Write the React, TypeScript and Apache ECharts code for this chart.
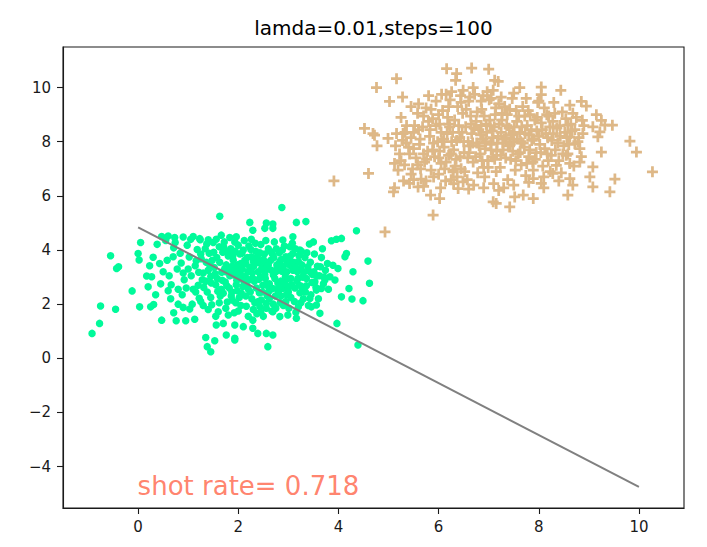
import React, { useEffect, useRef } from "react";
import * as echarts from "echarts";

const title = "lamda=0.01,steps=100";
const annotationText = "shot rate= 0.718";
const annotationAt: [number, number] = [0, -5];

const xTicks = [0, 2, 4, 6, 8, 10];
const yTicks = [-4, -2, 0, 2, 4, 6, 8, 10];

// decision boundary line
const boundary: [number, number][] = [[0, 4.84], [10, -4.75]];

// class 0 (green dots): scattered edge points
const greenEdge: [number, number][] = [
  [1.63,5.25],[0.05,4.28],[0.0,3.87],[0.02,3.63],[-0.55,3.79],[-0.43,3.32],[-0.39,3.38],[-0.12,2.49],
  [-0.75,1.93],[-0.45,1.81],[-0.77,1.29],[-0.92,0.92],[0.03,1.9],[0.25,1.9],[0.31,1.99],[0.2,2.64],
  [0.17,3.04],[0.27,3.01],[0.23,3.42],[0.3,3.73],[0.43,3.5],[0.38,4.21],[0.47,1.41],[0.76,1.39],
  [0.95,1.39],[1.13,1.44],[0.71,1.68],[0.9,1.88],[1.03,1.82],[1.35,0.77],[1.53,0.65],[1.38,0.43],
  [1.45,0.24],[1.56,1.23],[1.7,1.29],[1.76,0.86],[1.93,0.74],
  [0.47,4.5],[0.6,4.52],[0.73,4.46],[0.9,4.48],[1.1,4.5],[1.23,4.42],[1.4,4.38],[1.56,4.4],[1.66,4.55],[1.83,4.46],
  [2.87,5.57],[2.23,5.02],[2.56,5.0],[2.69,4.96],[3.16,5.02],[3.35,5.05],[4.36,4.71],[3.86,4.34],
  [3.96,4.4],[4.06,4.43],[4.16,3.87],[4.13,3.75],[4.59,3.59],[3.89,3.44],[3.99,3.32],[4.29,3.2],
  [3.83,3.01],[3.93,2.89],[4.62,2.77],[4.21,2.58],[4.06,2.27],[4.27,2.19],[4.49,2.13],[3.97,1.29],
  [4.39,0.49],[3.56,1.97],[3.63,1.66],[3.46,1.9],[3.16,1.48],[2.99,1.6],[2.83,1.54],[2.69,1.72],
  [2.56,1.85],[2.43,1.9],[2.29,1.41],[2.29,1.11],[2.39,0.92],[2.56,0.92],[2.69,0.86],[2.59,0.43],
  [1.93,0.68],[2.1,1.17],[1.93,1.23],[3.29,2.52],[3.43,2.21],[3.56,2.52],[3.66,2.58],[3.73,2.89],
  [3.53,2.83],[3.43,3.2],[3.26,3.26],[3.36,2.95],[3.03,3.44],[3.09,3.87],[3.23,4.0],[3.09,4.49],
  [2.89,4.37],[3.03,4.12],[2.29,4.73],[2.53,4.8],[2.69,4.8],[1.96,4.49],
];

// class 0 (green dots): dense core
const greenCore: [number, number][] = [
  [0.55,4.35],[0.62,3.05],[0.58,3.62],[0.71,4.08],[0.66,2.72],[0.78,3.3],[0.84,3.88],[0.88,2.35],[0.74,4.28],[0.86,3.52],[0.92,2.9],[0.5,3.2],
  [0.98,4.18],[1.02,3.74],[1.06,3.05],[1.1,2.55],[1.14,3.42],[1.18,4.02],[1.22,2.22],[1.25,3.85],[1.28,2.9],[1.0,3.3],[1.08,2.0],[1.16,3.6],[1.24,4.38],[1.3,3.15],[0.96,2.6],[1.2,2.7],
  [1.34,4.05],[1.36,3.55],[1.38,2.45],[1.42,3.88],[1.45,3.02],[1.47,1.98],[1.5,4.28],[1.52,3.35],[1.55,2.72],[1.57,3.72],[1.6,1.72],[1.62,4.12],[1.64,2.3],[1.67,3.18],[1.69,3.92],[1.4,3.25],[1.58,2.95],[1.66,2.55],[1.35,2.85],[1.48,3.62],
  [1.72,4.3],[1.74,2.82],[1.76,3.45],[1.78,2.08],[1.8,3.78],[1.83,3.05],[1.85,4.05],[1.87,2.45],[1.9,3.62],[1.92,1.68],[1.95,3.28],[1.97,2.88],[2.0,4.18],[2.02,2.25],[2.05,3.5],[2.07,3.88],[2.09,2.65],[1.82,2.6],[1.94,3.95],[2.04,3.12],[1.88,3.4],[1.98,2.5],[1.75,3.2],
  [2.12,4.35],[2.14,3.02],[2.16,1.92],[2.18,3.72],[2.2,2.55],[2.23,3.35],[2.25,4.02],[2.27,2.2],[2.3,3.58],[2.32,2.85],[2.35,3.95],[2.37,1.65],[2.4,3.2],[2.42,2.42],[2.45,4.2],[2.47,3.45],[2.49,2.7],[2.15,3.5],[2.22,2.9],[2.28,3.15],[2.33,2.05],[2.38,3.75],[2.44,3.0],[2.26,4.4],[2.46,2.15],
  [2.52,3.85],[2.54,2.95],[2.56,2.02],[2.58,3.3],[2.6,4.05],[2.63,2.52],[2.65,3.62],[2.67,1.75],[2.7,3.08],[2.72,4.3],[2.74,2.3],[2.77,3.45],[2.79,2.78],[2.82,3.9],[2.84,2.05],[2.87,3.22],[2.89,2.58],[2.55,3.55],[2.62,2.75],[2.68,3.85],[2.75,3.2],[2.8,2.45],[2.86,3.65],[2.58,2.3],
  [2.92,4.15],[2.94,3.02],[2.96,2.35],[2.98,3.55],[3.01,1.85],[3.04,3.78],[3.06,2.72],[3.09,3.25],[3.12,2.1],[3.14,4.05],[3.17,2.85],[3.2,3.58],[3.23,2.42],[3.26,3.95],[3.28,3.0],[3.3,2.2],[2.95,2.9],[3.07,3.45],[3.18,3.2],[3.0,2.6],
  [3.33,3.72],[3.36,2.68],[3.39,3.38],[3.42,4.22],[3.45,2.35],[3.48,3.1],[3.52,3.85],[3.55,2.62],[3.58,3.4],[3.62,3.05],[3.66,3.72],[3.7,2.75],[3.74,3.25],[3.78,3.5],[3.4,1.95],[3.5,4.3],[3.6,2.2],[3.68,4.05],[3.8,2.55],
  [1.21,3.18],[1.26,3.68],[1.31,2.62],[1.37,4.22],[1.43,3.45],[1.46,2.78],[1.51,3.92],[1.54,3.12],[1.59,2.48],[1.63,3.55],[1.68,2.88],[1.71,4.1],[1.73,3.32],[1.77,2.68],[1.81,3.95],[1.84,3.25],[1.86,2.3],[1.89,3.78],[1.91,3.08],[1.93,4.3],
  [1.96,2.72],[1.99,3.45],[2.01,2.95],[2.03,3.85],[2.06,2.4],[2.08,3.3],[2.1,4.0],[2.11,2.85],[2.13,3.62],[2.17,2.68],[2.19,3.2],[2.21,4.15],[2.24,2.45],[2.26,3.75],[2.29,2.95],[2.31,3.4],[2.34,4.25],[2.36,2.6],[2.39,3.55],[2.41,2.92],
  [2.43,3.9],[2.46,3.28],[2.48,2.45],[2.5,3.65],[2.53,3.1],[2.55,4.35],[2.57,2.7],[2.6,3.45],[2.62,2.2],[2.64,3.95],[2.66,3.25],[2.69,2.58],[2.71,3.72],[2.73,2.95],[2.76,4.05],[2.78,3.35],[2.81,2.62],[2.83,3.58],[2.85,2.85],[2.88,4.0],
  [2.9,3.4],[2.93,2.75],[2.95,3.75],[2.97,3.2],[3.0,2.45],[3.02,3.65],[3.05,2.95],[3.08,4.25],[3.1,3.55],[3.13,2.6],[3.15,3.35],[3.19,2.95],[3.21,3.8],[3.24,2.68],[3.27,3.45],[3.31,3.18],[3.34,2.45],[3.37,3.9],[3.44,3.55],[3.47,2.8],
  [3.51,3.2],[3.57,3.05],[3.64,3.38],[3.71,3.0],
  [1.3,1.95],[1.55,1.55],[1.75,1.85],[2.0,1.75],[2.2,1.55],[2.45,1.7],[2.7,2.0],[2.95,2.1],[3.2,1.9],[1.15,2.45],[0.8,2.55],[0.7,3.75],[0.9,3.15],[1.05,4.4],[0.6,2.5],
  [1.25,2.1],[1.4,1.8],[1.62,2.05],[1.8,1.6],[1.88,2.15],[2.05,1.95],[2.15,2.3],[2.3,1.8],[2.4,2.1],[2.5,1.55],[2.6,2.45],[2.75,1.85],[2.85,2.3],[2.9,1.95],[3.05,2.25],[3.15,1.7],[3.25,2.05],[1.45,2.25],[1.7,2.4],[1.95,2.05],
  [0.65,2.2],[0.8,2.0],[0.45,2.75],[0.35,2.35],
];

// class 1 (tan plus): scattered edge points
const tanEdge: [number, number][] = [
  [3.91,6.55],[4.6,6.83],[4.52,8.49],[4.69,8.3],[4.72,8.24],[4.77,7.85],[4.76,10.0],[5.16,10.33],
  [5.02,9.49],[5.28,9.65],[4.99,8.12],[5.16,8.3],[5.29,8.3],[5.14,7.85],[5.12,6.3],[5.1,6.15],
  [5.42,6.46],[5.59,6.33],[5.89,5.29],[5.84,6.03],[6.02,5.9],[6.16,10.7],[6.36,10.52],[6.34,10.27],
  [6.66,10.72],[7.0,10.68],[7.09,5.78],[5.12,7.2],[5.19,6.95],[6.39,6.27],[6.49,6.52],[6.29,6.89],
  [7.19,10.23],[7.09,9.9],[7.62,10.0],[8.05,10.02],[8.05,9.74],[8.44,9.9],[8.85,9.49],[8.95,9.32],
  [8.87,8.79],[9.15,9.0],[9.25,8.79],[9.08,8.55],[9.22,8.36],[9.32,8.61],[9.47,8.61],[9.18,8.18],
  [9.82,8.02],[9.95,7.62],[10.27,6.89],[9.25,7.62],[8.58,8.61],[8.62,8.18],[8.72,7.93],[8.82,7.75],
  [8.55,7.5],[8.62,7.2],[8.82,7.25],[9.08,7.07],[9.02,6.7],[9.08,6.33],[9.52,6.62],[9.42,6.15],
  [8.62,6.64],[8.68,6.4],[8.58,6.03],[8.35,7.13],[8.28,6.83],[8.05,6.46],[7.89,6.64],[7.89,5.9],
  [7.69,6.03],[7.42,5.59],[7.52,5.96],[7.15,5.72],[4.93,4.67],[6.06,9.75],[6.26,9.85],[6.49,9.9],
  [6.69,10.0],[6.89,9.7],[7.12,10.27],
];

// class 1 (tan plus): dense core
const tanCore: [number, number][] = [
  [5.22,7.55],[5.28,8.05],[5.32,7.15],[5.36,8.6],[5.4,7.8],[5.45,6.8],[5.5,8.35],[5.55,7.4],[5.58,9.05],[5.3,6.55],[5.48,7.0],[5.25,8.9],
  [5.62,7.9],[5.65,6.62],[5.68,8.55],[5.72,7.25],[5.75,9.25],[5.78,7.65],[5.82,8.2],[5.85,6.95],[5.88,8.85],[5.92,7.45],[5.95,9.5],[5.98,8.0],[5.7,6.35],[5.8,9.7],[5.9,6.7],[5.64,7.0],
  [6.02,8.65],[6.05,7.2],[6.08,9.15],[6.11,7.8],[6.14,6.55],[6.17,8.3],[6.2,7.5],[6.23,9.55],[6.26,8.0],[6.29,6.95],[6.32,8.8],[6.35,7.35],[6.38,9.3],[6.04,6.3],[6.15,9.75],[6.22,8.55],[6.3,7.7],[6.37,6.7],[6.1,8.1],
  [6.42,8.15],[6.45,7.0],[6.48,9.05],[6.51,7.6],[6.54,8.55],[6.57,6.6],[6.6,9.5],[6.63,7.85],[6.66,8.3],[6.69,7.25],[6.72,9.75],[6.75,8.75],[6.78,6.85],[6.44,9.7],[6.5,8.0],[6.58,7.4],[6.64,8.95],[6.7,6.4],[6.76,7.95],[6.8,8.45],
  [6.83,7.55],[6.86,9.2],[6.89,8.1],[6.92,6.7],[6.95,8.65],[6.98,7.3],[7.01,9.55],[7.04,7.9],[7.07,8.4],[7.1,6.45],[7.13,9.0],[7.16,7.65],[7.19,8.2],[6.85,8.6],[6.9,7.05],[6.97,9.85],[7.02,8.8],[7.08,7.45],[7.15,6.9],[7.2,9.4],[6.94,8.0],[7.11,8.55],
  [7.23,7.05],[7.26,8.8],[7.29,7.7],[7.32,9.3],[7.35,8.15],[7.38,6.6],[7.41,8.5],[7.44,7.35],[7.47,9.6],[7.5,8.0],[7.53,6.95],[7.56,8.75],[7.59,7.55],[7.25,8.35],[7.3,6.3],[7.37,9.0],[7.43,7.9],[7.49,8.3],[7.55,9.15],[7.28,7.95],
  [7.62,8.35],[7.65,7.15],[7.68,9.3],[7.71,7.8],[7.74,6.75],[7.77,8.6],[7.8,7.45],[7.83,9.0],[7.86,8.05],[7.89,6.95],[7.92,8.8],[7.95,7.6],[7.98,9.45],[7.64,8.0],[7.72,8.95],[7.8,8.25],[7.88,7.25],[7.96,8.4],
  [8.02,7.9],[8.05,8.7],[8.08,7.1],[8.11,9.25],[8.14,8.3],[8.17,7.55],[8.2,8.95],[8.23,6.9],[8.26,8.05],[8.3,9.45],[8.33,7.7],[8.36,8.5],[8.4,7.3],[8.1,6.7],[8.18,8.15],[8.28,8.75],
  [8.43,8.2],[8.47,9.1],[8.5,7.85],[8.54,8.85],[8.58,7.55],[8.62,9.35],[8.66,8.4],[8.7,7.1],[8.75,8.9],[8.8,8.15],[8.85,7.45],[8.9,8.6],[8.45,6.85],[8.56,8.15],[8.68,9.05],
  [5.5,7.75],[5.6,8.45],[5.7,7.55],[5.8,8.75],[5.9,7.95],[6.0,7.4],[6.05,8.35],[6.12,7.0],[6.18,8.9],[6.25,7.55],[6.28,8.35],[6.33,7.1],[6.36,8.05],[6.4,8.6],[6.43,7.45],[6.47,8.35],[6.52,6.9],[6.55,9.2],[6.59,8.0],[6.61,7.6],
  [6.65,8.65],[6.68,7.95],[6.71,8.5],[6.74,7.45],[6.77,9.1],[6.81,7.85],[6.84,8.25],[6.87,7.3],[6.91,8.95],[6.93,7.75],[6.96,8.35],[6.99,7.05],[7.03,8.6],[7.05,7.7],[7.09,8.15],[7.12,7.35],[7.14,9.25],[7.17,7.95],[7.21,8.65],[7.24,7.5],
  [7.27,9.05],[7.31,8.1],[7.34,7.4],[7.36,8.6],[7.39,7.85],[7.42,9.2],[7.45,8.25],[7.48,7.65],[7.51,8.55],[7.54,7.3],[7.57,8.1],[7.6,8.95],[7.63,7.6],[7.66,8.55],[7.69,7.95],[7.73,8.3],[7.76,7.2],[7.79,9.15],[7.82,7.7],[7.85,8.45],
  [7.9,8.1],[7.93,7.35],[7.97,8.9],[8.0,8.2],[8.04,7.6],[8.07,8.45],[8.12,7.75],[8.16,9.0],[8.19,7.3],[8.22,8.55],[8.25,7.5],[8.29,8.3],[8.32,9.05],[8.38,7.95],[8.42,8.6],[8.48,7.55],[8.52,8.35],[8.6,7.9],[8.64,8.65],[8.72,8.45],
  [8.78,8.0],[8.88,8.3],[6.0,9.0],[6.2,9.3],[6.45,9.45],[6.62,9.65],[6.85,9.5],[7.05,9.6],[7.25,9.65],[7.5,9.8],[7.75,9.6],[8.0,9.5],[6.3,6.45],[6.6,6.25],[6.9,6.3],[7.2,6.2],[7.5,6.4],[7.8,6.5],[8.1,6.3],[8.4,6.55],
  [5.35,7.95],[5.45,8.15],
  [5.25,7.3],[5.33,8.35],[5.42,7.55],[5.52,8.6],[5.58,7.15],[5.63,8.1],[5.7,8.95],[5.76,7.35],[5.83,8.45],[5.88,7.7],[5.95,8.6],[6.02,7.65],[6.07,8.0],[6.15,7.25],[6.2,8.65],[5.45,9.3],[5.6,9.4],[5.85,9.2],[5.5,6.6],[5.75,6.55],
  [6.0,6.8],[6.25,6.6],
];

const FONT = "DejaVu Sans";
const plusPath = "path://M3.75,0H6.25V3.75H10V6.25H6.25V10H3.75V6.25H0V3.75H3.75Z";
const fmt = (v: number) => String(v).replace("-", "\u2212");

export default function App() {
  const ref = useRef<HTMLDivElement>(null);
  useEffect(() => {
    document.body.style.margin = "0";
    const chart = echarts.init(ref.current!, null, { renderer: "svg" });
    const axisCommon = {
      axisLine: { show: true, onZero: false, lineStyle: { color: "#1a1a1a", width: 1.1 } },
      splitLine: { show: false },
    };
    chart.setOption({
      animation: false,
      backgroundColor: "#ffffff",
      grid: { left: 63, right: 23, top: 47, bottom: 39, show: true, borderColor: "#1a1a1a", borderWidth: 1.1, backgroundColor: "transparent" },
      xAxis: {
        type: "value", min: -1.5, max: 10.9, ...axisCommon,
        axisTick: { show: true, inside: false, length: 6, lineStyle: { color: "#1a1a1a", width: 1.1 }, customValues: xTicks },
        axisLabel: { customValues: xTicks, formatter: fmt, color: "#1a1a1a", fontFamily: FONT, fontSize: 15, margin: 11 },
      },
      yAxis: {
        type: "value", min: -5.53, max: 11.5, ...axisCommon,
        axisTick: { show: true, inside: false, length: 6, lineStyle: { color: "#1a1a1a", width: 1.1 }, customValues: yTicks },
        axisLabel: { customValues: yTicks, formatter: fmt, color: "#1a1a1a", fontFamily: FONT, fontSize: 15, margin: 12 },
      },
      graphic: [
        { type: "text", x: 373.5, y: 38, style: { text: title, fill: "#000", font: `20px "${FONT}"`, align: "center", verticalAlign: "bottom" } },
      ],
      series: [
        { type: "scatter", data: [...greenEdge, ...greenCore], symbol: "circle", symbolSize: 7.5, itemStyle: { color: "#00fa9a", opacity: 1 } },
        { type: "scatter", data: [...tanEdge, ...tanCore], symbol: plusPath, symbolSize: 11, itemStyle: { color: "#deb887", opacity: 1 } },
        { type: "line", data: boundary, showSymbol: false, symbol: "none", lineStyle: { color: "#808080", width: 2 } },
        {
          type: "scatter", data: [annotationAt], symbolSize: 1, itemStyle: { color: "rgba(0,0,0,0)" },
          label: { show: true, formatter: annotationText, position: [0, 0], align: "left", verticalAlign: "bottom", offset: [0, 6], color: "#ff6347", fontFamily: FONT, fontSize: 26 },
        },
      ],
    });
    return () => chart.dispose();
  }, []);
  return <div ref={ref} style={{ position: "fixed", left: 0, top: 0, width: 707, height: 547 }} />;
}
